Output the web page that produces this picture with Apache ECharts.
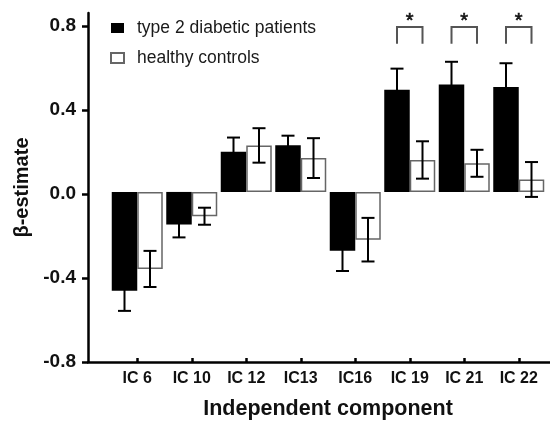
<!DOCTYPE html>
<html><head><meta charset="utf-8">
<script src="https://cdn.jsdelivr.net/npm/echarts@6/dist/echarts.min.js"></script>
<style>html,body{margin:0;padding:0;background:#fff}#c{width:550px;height:425px}</style>
</head><body><div id="c"></div>
<script>
const categories = ['IC 6','IC 10','IC 12','IC13','IC16','IC 19','IC 21','IC 22'];
const diabetic   = [-0.476,-0.157,0.194,0.225,-0.283,0.492,0.517,0.506];
const diabeticSE = [0.097,0.062,0.068,0.046,0.098,0.102,0.110,0.114];
const controls   = [-0.371,-0.117,0.224,0.163,-0.230,0.154,0.138,0.060];
const controlsSE = [0.087,0.041,0.083,0.096,0.105,0.090,0.065,0.084];
const yTicks = [-0.8,-0.4,0,0.4,0.8];
const significant = ['IC 19','IC 21','IC 22'];
const seriesNames = ['type 2 diabetic patients','healthy controls'];

const FONT = 'Liberation Sans, Arial, sans-serif';
const BAR_W = 25.5;
const Y_MIN = -0.8, Y_MAX = 0.862;

function errData(vals, se){ return vals.map((v,i)=>[i, v-se[i], v+se[i]]); }
function errRender(offset){
  return function(params, api){
    const i = api.value(0);
    const cx = api.coord([i, 0])[0] + offset;
    const yl = api.coord([i, api.value(1)])[1];
    const yh = api.coord([i, api.value(2)])[1];
    const cap = 6.5;
    const st = {stroke:'#000', lineWidth:2};
    return {type:'group', children:[
      {type:'line', shape:{x1:cx,y1:yl,x2:cx,y2:yh}, style:st},
      {type:'line', shape:{x1:cx-cap,y1:yl,x2:cx+cap,y2:yl}, style:st},
      {type:'line', shape:{x1:cx-cap,y1:yh,x2:cx+cap,y2:yh}, style:st}
    ]};
  };
}

const chart = echarts.init(document.getElementById('c'));
chart.setOption({
  animation:false,
  backgroundColor:'#fff',
  textStyle:{fontFamily:FONT},
  legend:{
    data:seriesNames, orient:'vertical', left:110, top:18, padding:0,
    icon:'rect', itemWidth:13, itemHeight:10, itemGap:10, selectedMode:false,
    textStyle:{fontFamily:FONT, fontSize:17.5, color:'#1a1a1a', lineHeight:20, padding:[0,0,0,8]}
  },
  grid:[
    {left:110, right:4, top:13, bottom:63},
    {left:88, right:0, top:13, bottom:63}
  ],
  xAxis:[
    {type:'category', gridIndex:0, data:categories,
     axisLine:{show:false, onZero:false},
     axisTick:{show:true, alignWithLabel:true, length:5, lineStyle:{color:'#000', width:2.5}},
     axisLabel:{fontFamily:FONT, fontSize:16, fontWeight:'bold', color:'#111', margin:13},
     name:'Independent component', nameLocation:'middle', nameGap:40,
     nameTextStyle:{fontFamily:FONT, fontSize:21.5, fontWeight:'bold', color:'#111'}},
    {type:'value', gridIndex:1, min:0, max:1,
     axisLine:{show:true, onZero:false, lineStyle:{color:'#000', width:2.5}},
     axisTick:{show:false}, axisLabel:{show:false}, splitLine:{show:false}}
  ],
  yAxis:[
    {type:'value', gridIndex:0, min:Y_MIN, max:Y_MAX, show:false, splitLine:{show:false}},
    {type:'value', gridIndex:1, min:Y_MIN, max:Y_MAX,
     axisLine:{show:true, onZero:false, lineStyle:{color:'#000', width:2.5}},
     axisTick:{show:true, customValues:yTicks, length:6, lineStyle:{color:'#000', width:2.5}},
     axisLabel:{customValues:yTicks, formatter:v=>v.toFixed(1), fontFamily:FONT, fontSize:19, fontWeight:'bold', color:'#111', margin:12},
     splitLine:{show:false},
     name:'β-estimate', nameLocation:'middle', nameGap:55,
     nameTextStyle:{fontFamily:FONT, fontSize:20, fontWeight:'bold', color:'#111'}}
  ],
  series:[
    {name:seriesNames[0], type:'bar', xAxisIndex:0, yAxisIndex:0, data:diabetic,
     barWidth:BAR_W, barGap:'0%', itemStyle:{color:'#000', borderColor:'#000', borderWidth:0}},
    {name:seriesNames[1], type:'bar', xAxisIndex:0, yAxisIndex:0, data:controls,
     barWidth:BAR_W, barGap:'0%', itemStyle:{color:'#fff', borderColor:'#666', borderWidth:1.5}},
    {type:'custom', xAxisIndex:0, yAxisIndex:0, data:errData(diabetic, diabeticSE),
     renderItem:errRender(-BAR_W/2), encode:{x:0, y:[1,2]}, z:5, silent:true},
    {type:'custom', xAxisIndex:0, yAxisIndex:0, data:errData(controls, controlsSE),
     renderItem:errRender(BAR_W/2), encode:{x:0, y:[1,2]}, z:5, silent:true},
    {type:'custom', xAxisIndex:0, yAxisIndex:0, clip:false, z:5, silent:true,
     data:significant.map(c=>[categories.indexOf(c)]),
     encode:{x:0},
     renderItem:function(params, api){
       const i = api.value(0);
       const cx = api.coord([i, 0])[0];
       const yb = api.coord([i, 0.714])[1];
       const yt = api.coord([i, 0.794])[1];
       const ys = api.coord([i, 0.819])[1];
       const h = BAR_W/2;
       return {type:'group', children:[
         {type:'polyline', shape:{points:[[cx-h,yb],[cx-h,yt],[cx+h,yt],[cx+h,yb]]},
          style:{stroke:'#555', lineWidth:2, fill:null}},
         {type:'text', x:cx, y:ys, style:{text:'*', fontFamily:FONT, fontSize:20, fill:'#111', stroke:'#111', lineWidth:0.6, align:'center', verticalAlign:'middle'}}
       ]};
     }}
  ]
});
</script></body></html>
